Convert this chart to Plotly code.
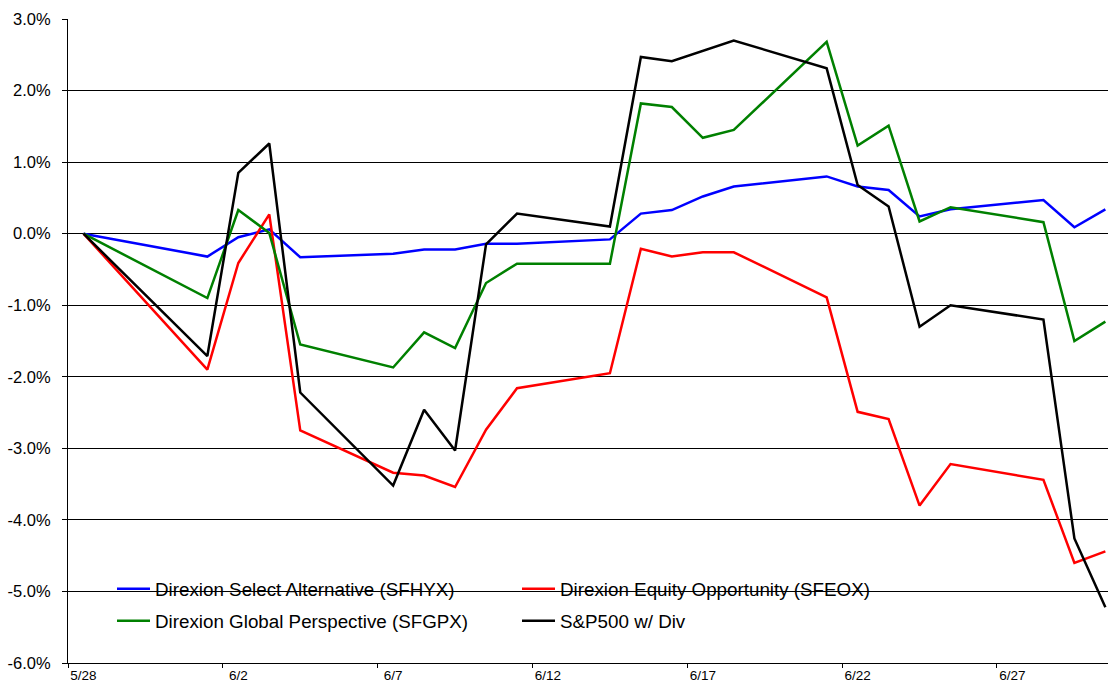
import pandas as pd
import plotly.graph_objects as go

# ---- data (percent returns since 5/28) ----
dates = ["5/28", "6/1", "6/2", "6/3", "6/4", "6/7", "6/8", "6/9", "6/10", "6/11",
         "6/14", "6/15", "6/16", "6/17", "6/18", "6/21", "6/22", "6/23", "6/24",
         "6/25", "6/28", "6/29", "6/30"]
sfhyx = [0, -0.32, -0.05, 0.06, -0.33, -0.28, -0.22, -0.22, -0.14, -0.14,
         -0.08, 0.28, 0.33, 0.52, 0.66, 0.80, 0.66, 0.61, 0.24,
         0.34, 0.47, 0.09, 0.34]
sfeox = [0, -1.90, -0.41, 0.27, -2.75, -3.34, -3.38, -3.54, -2.74, -2.16,
         -1.95, -0.21, -0.32, -0.26, -0.26, -0.89, -2.49, -2.59, -3.80,
         -3.22, -3.44, -4.60, -4.44]
sfgpx = [0, -0.90, 0.33, 0.01, -1.55, -1.87, -1.38, -1.60, -0.69, -0.42,
         -0.42, 1.82, 1.77, 1.34, 1.45, 2.68, 1.23, 1.51, 0.17,
         0.37, 0.16, -1.50, -1.23]
sp500 = [0, -1.71, 0.85, 1.26, -2.22, -3.52, -2.46, -3.03, -0.15, 0.28,
         0.10, 2.47, 2.41, 2.55, 2.70, 2.31, 0.68, 0.38, -1.30,
         -1.00, -1.20, -4.26, -5.22]
x_tick_labels = ["5/28", "6/2", "6/7", "6/12", "6/17", "6/22", "6/27"]
y_tick_values = [3, 2, 1, 0, -1, -2, -3, -4, -5, -6]
y_tick_labels = ["3.0%", "2.0%", "1.0%", "0.0%", "-1.0%", "-2.0%", "-3.0%",
                 "-4.0%", "-5.0%", "-6.0%"]
year = "2010"

def to_day(s):
    return pd.Timestamp(f"{year}/{s}")

# points sit in the middle of each day (Excel date axis)
x = [to_day(d) + pd.Timedelta(hours=12) for d in dates]
tick_mid = [to_day(t) + pd.Timedelta(hours=12) for t in x_tick_labels]
tick_edge = [to_day(t) for t in x_tick_labels]

FONT = "Liberation Sans, Arial, sans-serif"

fig = go.Figure()
fig.add_trace(go.Scatter(x=x, y=sfhyx, mode="lines", name="Direxion Select Alternative (SFHYX)",
                         line=dict(color="#0000FF", width=2.5), legend="legend"))
fig.add_trace(go.Scatter(x=x, y=sfeox, mode="lines", name="Direxion Equity Opportunity (SFEOX)",
                         line=dict(color="#FF0000", width=2.5), legend="legend"))
fig.add_trace(go.Scatter(x=x, y=sfgpx, mode="lines", name="Direxion Global Perspective (SFGPX)",
                         line=dict(color="#008000", width=2.5), legend="legend2"))
fig.add_trace(go.Scatter(x=x, y=sp500, mode="lines", name="S&P500 w/ Div",
                         line=dict(color="#000000", width=2.5), legend="legend2"))

x0 = to_day(dates[0])
x1 = x0 + pd.Timedelta(days=33.585)

W, H = 1108, 681
ml, mr, mt, mb = 68, 0, 19, 18
pw, ph = W - ml - mr, H - mt - mb

def px_x(p):
    return (p - ml) / pw

def px_y(p):
    return (H - mb - p) / ph

leg_common = dict(orientation="h", entrywidth=357, entrywidthmode="pixels",
                  itemwidth=33,
                  font=dict(family=FONT, size=18.8, color="black"),
                  bgcolor="rgba(0,0,0,0)", borderwidth=0,
                  xanchor="left", yanchor="middle", itemclick=False)

fig.update_layout(
    width=W, height=H, template="none",
    margin=dict(l=ml, r=mr, t=mt, b=mb),
    paper_bgcolor="white", plot_bgcolor="white",
    font=dict(family=FONT, color="black"),
    showlegend=True,
    legend=dict(x=px_x(112), y=px_y(589), **leg_common),
    legend2=dict(x=px_x(112), y=px_y(621), **leg_common),
    xaxis=dict(
        type="date", range=[x0, x1], automargin=False,
        tickmode="array", tickvals=tick_mid, ticktext=x_tick_labels,
        ticks="", showgrid=False, zeroline=False,
        showline=True, linecolor="black", linewidth=1,
        tickfont=dict(family=FONT, size=13.5, color="black"),
        minor=dict(tickmode="array", tickvals=tick_edge, ticks="outside",
                   ticklen=4, tickcolor="black", tickwidth=1, showgrid=False),
    ),
    yaxis=dict(
        range=[-6, 3], tickmode="array", tickvals=y_tick_values,
        ticktext=y_tick_labels, automargin=False,
        showgrid=True, gridcolor="black", gridwidth=1, zeroline=False,
        showline=True, linecolor="black", linewidth=1,
        ticks="outside", ticklen=5, tickcolor="black", tickwidth=1,
        tickfont=dict(family=FONT, size=16.5, color="black"),
        ticklabelstandoff=8,
    ),
    shapes=[dict(type="rect", xref="paper", yref="paper", layer="between",
                 x0=px_x(90), x1=px_x(900), y0=px_y(640), y1=px_y(570),
                 fillcolor="white", line=dict(width=0))],
)

fig.write_html("out.html")
